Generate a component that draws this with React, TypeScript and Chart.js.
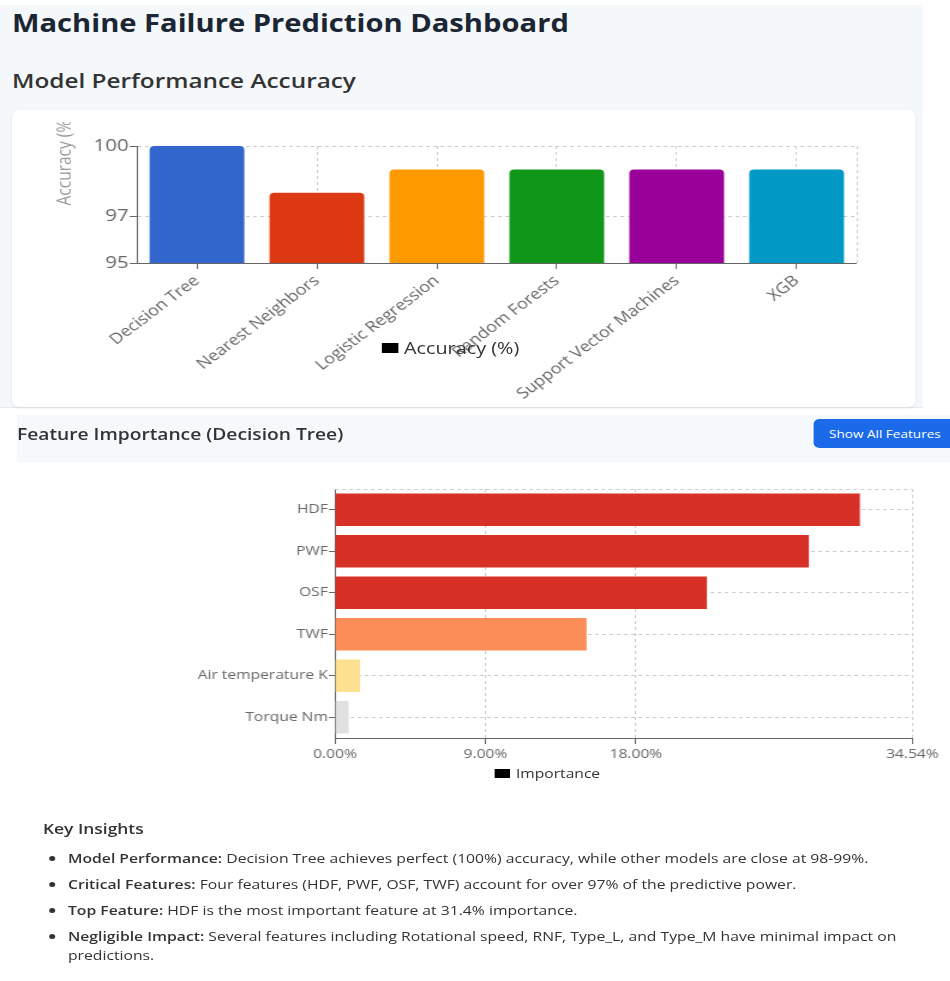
import React, { useEffect, useRef } from "react";
import { Chart, registerables } from "chart.js";

Chart.register(...registerables);

const FONT = "'Open Sans', 'Noto Sans', sans-serif";

// The page is laid out in a narrower box and widened by this factor.
const S = 1.2;
const X = (v: number) => v / S;

// Model accuracy (%)
const models = [
  "Decision Tree",
  "Nearest Neighbors",
  "Logistic Regression",
  "Random Forests",
  "Support Vector Machines",
  "XGB",
];
const accuracy = [100, 98, 99, 99, 99, 99];
const modelColors = ["#3366cc", "#dc3912", "#ff9900", "#109618", "#990099", "#0099c6"];
const accuracyTicks = [95, 97, 100];

// Decision tree feature importance (%)
const features = ["HDF", "PWF", "OSF", "TWF", "Air temperature K", "Torque Nm"];
const importance = [31.4, 28.35, 22.25, 15.05, 1.5, 0.82];
const featureColors = ["#d73027", "#d73027", "#d73027", "#fc8d59", "#fee090", "#e0e0e0"];
const importanceMax = 34.54;
const importanceTicks = [0, 9, 18, importanceMax];

const insights = [
  ["Model Performance:", "Decision Tree achieves perfect (100%) accuracy, while other models are close at 98-99%."],
  ["Critical Features:", "Four features (HDF, PWF, OSF, TWF) account for over 97% of the predictive power."],
  ["Top Feature:", "HDF is the most important feature at 31.4% importance."],
  ["Negligible Impact:", "Several features including Rotational speed, RNF, Type_L, and Type_M have minimal impact on predictions."],
];

const GRID = "#cccccc";
const AXIS = "#666666";

// Dashed frame line along one edge of the plot area
const edgeLine = (edge: "right" | "top") => ({
  id: "edgeLine" + edge,
  beforeDatasetsDraw(chart: any) {
    const { ctx, chartArea: a } = chart;
    ctx.save();
    ctx.strokeStyle = GRID;
    ctx.lineWidth = 1;
    ctx.setLineDash([3, 3]);
    ctx.beginPath();
    if (edge === "right") {
      ctx.moveTo(a.right + 0.5, a.top);
      ctx.lineTo(a.right + 0.5, a.bottom);
    } else {
      ctx.moveTo(a.left, a.top + 0.5);
      ctx.lineTo(a.right, a.top + 0.5);
    }
    ctx.stroke();
    ctx.restore();
  },
});

// Y axis caption, anchored at the plot's vertical middle and running upward
const accuracyTitle = {
  id: "accuracyTitle",
  afterDraw(chart: any) {
    const { ctx, chartArea: a } = chart;
    ctx.save();
    ctx.translate(X(54), (a.top + a.bottom) / 2 + 1);
    ctx.rotate(-Math.PI / 2);
    ctx.fillStyle = "#999999";
    ctx.font = `15.5px ${FONT}`;
    ctx.textAlign = "left";
    ctx.textBaseline = "middle";
    ctx.fillText("Accuracy (%)", 0, 0);
    ctx.restore();
  },
};

function AccuracyChart() {
  const ref = useRef<HTMLCanvasElement>(null);
  const w = Math.round(X(904));
  useEffect(() => {
    const chart = new Chart(ref.current!, {
      type: "bar",
      data: {
        labels: models,
        datasets: [
          {
            label: "Accuracy (%)",
            data: accuracy,
            backgroundColor: modelColors,
            borderRadius: { topLeft: 4, topRight: 4, bottomLeft: 0, bottomRight: 0 },
            borderSkipped: false,
            barPercentage: 1,
            categoryPercentage: 0.79,
          },
        ],
      },
      options: {
        animation: false,
        responsive: false,
        maintainAspectRatio: false,
        layout: { padding: { left: 0, right: X(59), top: 24, bottom: 0 } },
        plugins: { legend: { display: false }, tooltip: { enabled: false } },
        scales: {
          x: {
            grid: { offset: false, color: GRID, tickColor: AXIS, tickLength: 6, tickBorderDash: [] },
            border: { color: AXIS, dash: [3, 3] },
            ticks: {
              color: AXIS,
              font: { size: 15, family: FONT },
              minRotation: 42,
              maxRotation: 42,
              autoSkip: false,
              padding: 3,
            },
            afterFit(s: any) {
              s.height = 145;
              s.paddingLeft = 0;
              s.paddingRight = 0;
            },
          },
          y: {
            min: 95,
            max: 100,
            afterBuildTicks(s: any) {
              s.ticks = accuracyTicks.map((v) => ({ value: v }));
            },
            grid: { color: GRID, tickColor: AXIS, tickLength: 6, tickBorderDash: [] },
            border: { color: AXIS, dash: [3, 3] },
            ticks: { color: AXIS, font: { size: 17, family: FONT }, padding: 1 },
            afterFit(s: any) {
              s.width = X(125);
              s.paddingTop = 0;
              s.paddingBottom = 0;
            },
          },
        },
      },
      plugins: [edgeLine("right"), accuracyTitle],
    });
    return () => chart.destroy();
  }, []);
  return (
    <canvas
      ref={ref}
      width={w}
      height={286}
      style={{ position: "absolute", left: X(12), top: 122, width: w, height: 286 }}
    />
  );
}

function ImportanceChart() {
  const ref = useRef<HTMLCanvasElement>(null);
  const w = Math.round(X(800));
  useEffect(() => {
    const chart = new Chart(ref.current!, {
      type: "bar",
      data: {
        labels: features,
        datasets: [
          {
            label: "Importance",
            data: importance,
            backgroundColor: featureColors,
            barPercentage: 0.98,
            categoryPercentage: 0.8,
          },
        ],
      },
      options: {
        indexAxis: "y",
        animation: false,
        responsive: false,
        maintainAspectRatio: false,
        layout: { padding: { left: 0, right: X(38), top: 19, bottom: 0 } },
        plugins: { legend: { display: false }, tooltip: { enabled: false } },
        scales: {
          x: {
            min: 0,
            max: importanceMax,
            afterBuildTicks(s: any) {
              s.ticks = importanceTicks.map((v) => ({ value: v }));
            },
            grid: { color: GRID, tickColor: AXIS, tickLength: 6, tickBorderDash: [] },
            border: { color: AXIS, dash: [3, 3] },
            ticks: {
              color: AXIS,
              font: { size: 13, family: FONT },
              padding: 2,
              callback: (v: any) => Number(v).toFixed(2) + "%",
            },
            afterFit(s: any) {
              s.height = 52;
              s.paddingLeft = 0;
              s.paddingRight = 0;
            },
          },
          y: {
            grid: { offset: false, color: GRID, tickColor: AXIS, tickLength: 5, tickBorderDash: [] },
            border: { color: AXIS, dash: [3, 3] },
            ticks: { color: AXIS, font: { size: 13, family: FONT }, padding: 1 },
            afterFit(s: any) {
              s.width = X(185);
              s.paddingTop = 0;
              s.paddingBottom = 0;
            },
          },
        },
      },
      plugins: [edgeLine("top")],
    });
    return () => chart.destroy();
  }, []);
  return (
    <canvas
      ref={ref}
      width={w}
      height={320}
      style={{ position: "absolute", left: X(150), top: 470, width: w, height: 320 }}
    />
  );
}

function LegendItem({ left, top, label, size, w, h }: any) {
  return (
    <div
      style={{
        position: "absolute",
        left: X(left),
        top,
        display: "flex",
        alignItems: "center",
        fontFamily: FONT,
        fontSize: size,
        color: "#333",
        whiteSpace: "nowrap",
        lineHeight: 1,
      }}
    >
      <span
        style={{ display: "inline-block", width: X(w), height: h, background: "#000", marginRight: X(6) }}
      />
      {label}
    </div>
  );
}

export default function App() {
  return (
    <div
      style={{
        position: "absolute",
        left: 0,
        top: 0,
        width: 950,
        height: 981,
        overflow: "hidden",
        background: "#fff",
      }}
    >
      <div
        style={{
          position: "absolute",
          left: 0,
          top: 0,
          width: X(950),
          height: 981,
          transform: `scaleX(${S})`,
          transformOrigin: "0 0",
          fontFamily: FONT,
        }}
      >
        <div
          style={{
            position: "absolute",
            left: 0,
            top: 5,
            width: X(923),
            height: 402,
            background: "#f5f8fb",
            borderBottom: "1px solid #e6e9ee",
          }}
        />
        <div
          style={{
            position: "absolute",
            left: X(12),
            top: 6,
            fontSize: 24.3,
            fontWeight: 700,
            color: "#1c2633",
            whiteSpace: "nowrap",
            lineHeight: "34px",
          }}
        >
          Machine Failure Prediction Dashboard
        </div>
        <div
          style={{
            position: "absolute",
            left: X(12),
            top: 65,
            fontSize: 20.3,
            fontWeight: 600,
            color: "#333",
            whiteSpace: "nowrap",
            lineHeight: "30px",
          }}
        >
          Model Performance Accuracy
        </div>
        <div
          style={{
            position: "absolute",
            left: X(12),
            top: 110,
            width: X(904),
            height: 297,
            background: "#fff",
            borderRadius: 7,
            boxShadow: "0 1px 3px rgba(0,0,0,0.08)",
          }}
        />
        <AccuracyChart />
        <LegendItem left={381} top={340} label="Accuracy (%)" size={16.5} w={17} h={10} />

        <div
          style={{
            position: "absolute",
            left: X(17),
            top: 415,
            width: X(933),
            height: 47,
            background: "#f6f9fc",
          }}
        />
        <div
          style={{
            position: "absolute",
            left: X(17),
            top: 423,
            fontSize: 16,
            fontWeight: 600,
            color: "#333",
            whiteSpace: "nowrap",
            lineHeight: "22px",
          }}
        >
          Feature Importance (Decision Tree)
        </div>
        <div
          style={{
            position: "absolute",
            left: X(813),
            top: 419,
            width: X(145),
            height: 29,
            background: "#1a6ae9",
            borderRadius: 5,
            color: "#fff",
            fontSize: 11.3,
            fontWeight: 500,
            lineHeight: "29px",
            paddingLeft: X(16),
            boxSizing: "border-box",
            whiteSpace: "nowrap",
          }}
        >
          Show All Features
        </div>
        <ImportanceChart />
        <LegendItem left={494} top={767} label="Importance" size={13} w={16} h={9} />

        <div
          style={{
            position: "absolute",
            left: X(43),
            top: 818,
            fontSize: 14.5,
            fontWeight: 600,
            color: "#333",
            lineHeight: "22px",
          }}
        >
          Key Insights
        </div>
        <ul
          style={{
            position: "absolute",
            left: X(50),
            top: 849,
            width: 735,
            margin: 0,
            padding: `0 0 0 ${X(18)}px`,
            fontSize: 13.1,
            color: "#333",
            lineHeight: "19px",
          }}
        >
          {insights.map(([head, body]) => (
            <li key={head} style={{ marginBottom: 7 }}>
              <strong style={{ fontWeight: 600 }}>{head}</strong> {body}
            </li>
          ))}
        </ul>
      </div>
    </div>
  );
}
